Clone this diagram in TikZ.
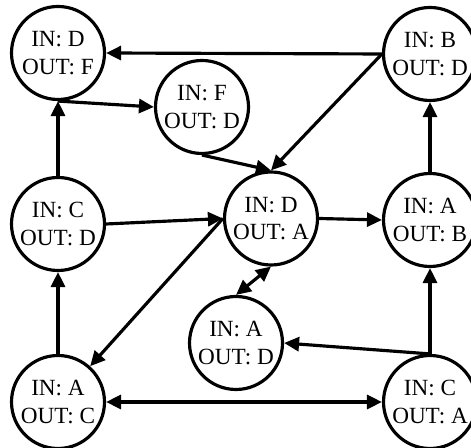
\documentclass[tikz,border=0pt]{standalone}
\usepackage{fontspec}
\setmainfont{Liberation Serif}
\usetikzlibrary{arrows.meta}
\tikzset{
	statenode/.style={draw, circle, line width=1.8pt, minimum size=1.86cm,
		inner sep=0pt, align=center, font=\fontsize{13.2}{15.8}\selectfont},
	link/.style={line width=1.8pt, -{Triangle[length=0.3cm, width=0.28cm]}},
	duallink/.style={line width=1.8pt,
		{Triangle[length=0.3cm, width=0.28cm]}-{Triangle[length=0.3cm, width=0.28cm]}}
}

\begin{document}
\begin{tikzpicture}
	\useasboundingbox (0,0) rectangle (9.42,8.96);
	\clip (0,0) rectangle (9.42,8.96);

	% states
	\node[statenode] (df) at (1.16,7.90) {IN: D\\OUT: F};
	\node[statenode] (fd) at (4.04,6.82) {IN: F\\OUT: D};
	\node[statenode] (bd) at (8.60,7.88) {IN: B\\OUT: D};
	\node[statenode] (cd) at (1.16,4.48) {IN: C\\OUT: D};
	\node[statenode] (da) at (5.42,4.59) {IN: D\\OUT: A};
	\node[statenode] (ab) at (8.60,4.56) {IN: A\\OUT: B};
	\node[statenode] (ad) at (4.72,2.10) {IN: A\\OUT: D};
	\node[statenode] (ac) at (1.16,0.92) {IN: A\\OUT: C};
	\node[statenode] (ca) at (8.60,0.92) {IN: C\\OUT: A};

	% transitions
	\draw[link] (bd.west) -- (df.east);
	\draw[link] (df.south) -- (fd.west);
	\draw[link] (fd.south) -- (da.north);
	\draw[link] (bd.west) -- (da.north);
	\draw[link] (cd.north) -- (df.south);
	\draw[link] (cd.east) -- (da.west);
	\draw[link] (da.east) -- (ab.west);
	\draw[link] (ab.north) -- (bd.south);
	\draw[link] (da.west) -- (ac);
	\draw[duallink] (ad.north) -- (da.south);
	\draw[link] (ca.north) -- (ad.east);
	\draw[link] (ca.north) -- (ab.south);
	\draw[link] (ac.north) -- (cd.south);
	\draw[duallink] (ac.east) -- (ca.west);
\end{tikzpicture}
\end{document}
